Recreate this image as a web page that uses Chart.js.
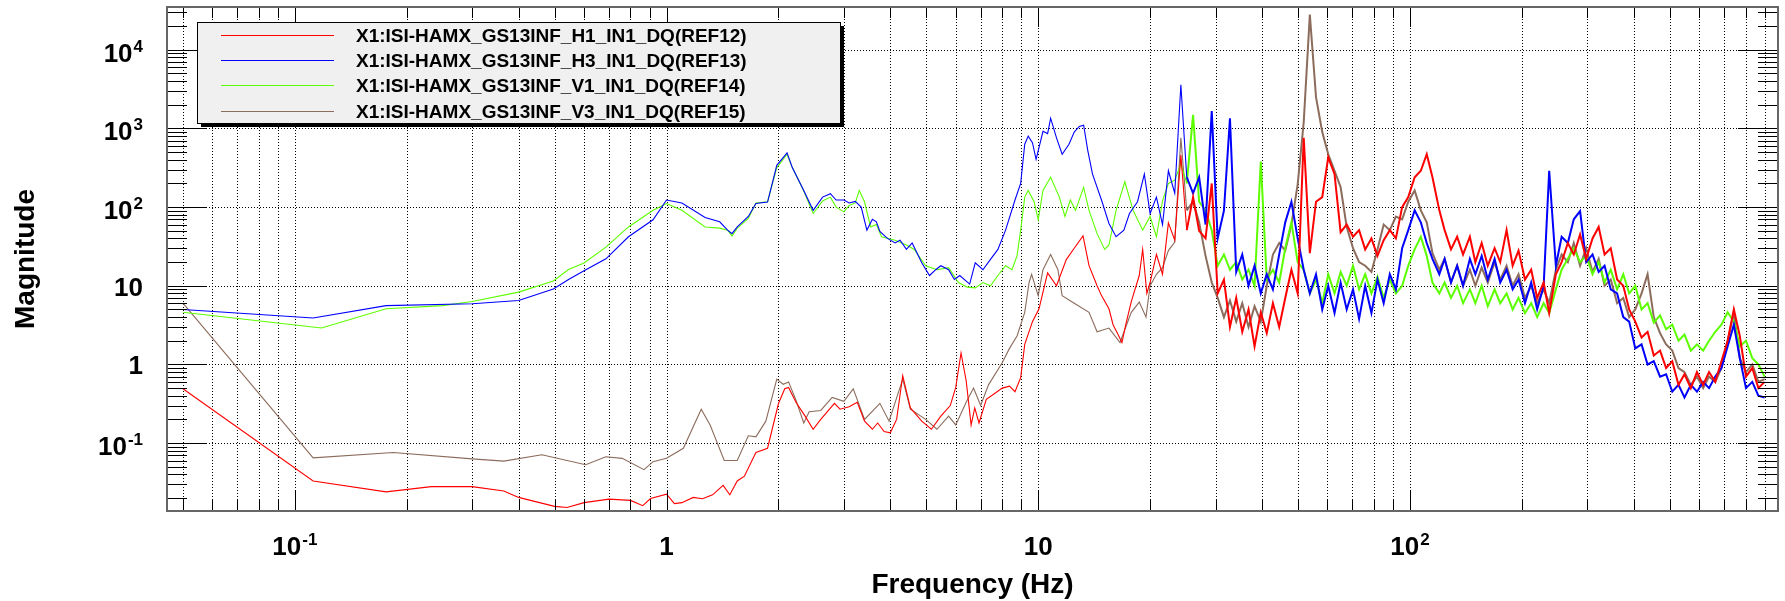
<!DOCTYPE html>
<html>
<head>
<meta charset="utf-8">
<script src="https://cdn.jsdelivr.net/npm/chart.js@4.4.1/dist/chart.umd.min.js"></script>
<style>
html, body { margin: 0; padding: 0; background: #fff; }
#wrap { width: 1785px; height: 601px; }
</style>
</head>
<body>
<div id="wrap"><canvas id="c" width="1785" height="601"></canvas></div>
<script>
// Spectra
// ================================================================================
// below 20 Hz every trace has its own breakpoints
let freqRedLow = [0.05, 0.112, 0.176, 0.233, 0.30, 0.365, 0.40, 0.50, 0.54, 0.60,
	0.70, 0.80, 0.863, 0.906, 1.0, 1.05, 1.10, 1.18, 1.25, 1.33,
	1.42, 1.48, 1.55, 1.62, 1.74, 1.87, 2.0, 2.08, 2.13, 2.23,
	2.36, 2.48, 2.6, 2.83, 2.93, 3.1, 3.26, 3.41, 3.58, 3.7,
	3.85, 4.0, 4.16, 4.32, 4.53, 4.86, 5.16, 5.47, 5.8, 6.0,
	6.2, 6.4, 6.6, 6.75, 6.93, 7.25, 7.6, 8.0, 8.37, 8.66,
	8.97, 9.2, 9.65, 10.05, 10.3, 10.6, 11.2, 11.9, 12.5, 13.2,
	13.7, 14.4, 14.8, 15.5, 15.9, 16.4, 16.8, 17.2, 17.8, 18.7,
	19.1, 19.6];
let magRedLow = [0.49, 0.033, 0.024, 0.028, 0.028, 0.0246, 0.0204, 0.0157, 0.0152, 0.0175,
	0.0194, 0.0187, 0.016, 0.0197, 0.0224, 0.017, 0.0175, 0.0204, 0.0196, 0.022,
	0.029, 0.022, 0.033, 0.038, 0.076, 0.086, 0.316, 0.49, 0.51, 0.33,
	0.22, 0.15, 0.20, 0.32, 0.27, 0.29, 0.33, 0.19, 0.15, 0.18,
	0.14, 0.135, 0.2, 0.72, 0.28, 0.19, 0.15, 0.22, 0.30, 0.51,
	1.4, 0.62, 0.17, 0.28, 0.18, 0.36, 0.42, 0.5, 0.53, 0.45,
	0.68, 1.8, 3.5, 5.1, 8.3, 14.6, 10, 21.5, 30, 43,
	18, 10, 7.5, 5.1, 3.2, 2.4, 1.9, 3.2, 6.3, 13.5,
	29, 8];

let freqBlueLow = [0.05, 0.112, 0.176, 0.30, 0.40, 0.496, 0.545, 0.60, 0.687, 0.79,
	0.92, 1.0, 1.1, 1.27, 1.39, 1.46, 1.50, 1.55, 1.66, 1.74,
	1.87, 1.98, 2.11, 2.18, 2.34, 2.48, 2.63, 2.76, 2.86, 3.0,
	3.1, 3.22, 3.34, 3.46, 3.58, 3.67, 3.75, 3.93, 4.12, 4.25,
	4.42, 4.58, 4.86, 5.1, 5.3, 5.47, 5.74, 5.95, 6.15, 6.54,
	6.77, 7.1, 7.44, 7.79, 8.17, 8.66, 8.97, 9.2, 9.4, 9.65,
	9.87, 10.3, 10.6, 10.8, 11.2, 11.6, 12.1, 12.5, 12.9, 13.25,
	13.6, 14.0, 14.8, 15.5, 16.2, 17.0, 17.6, 18.5, 19.3];
let magBlueLow = [5.0, 3.9, 5.6, 5.9, 6.5, 9.1, 12, 15.5, 22, 42,
	69, 123, 113, 74, 65, 51, 46, 56, 76, 111,
	116, 340, 490, 318, 163, 91, 134, 148, 123, 123,
	113, 118, 100, 51, 70, 65, 49, 40, 35, 38,
	29, 35, 19.6, 13.5, 16, 18, 16, 12, 13.5, 10.5,
	19.6, 16, 21.7, 29, 51, 123, 200, 630, 800, 660,
	405, 920, 860, 1350, 760, 470, 630, 900, 1060, 1100,
	520, 262, 123, 62, 42, 51, 83, 117, 262];

let freqGreenLow = [0.05, 0.118, 0.176, 0.25, 0.30, 0.40, 0.496, 0.545, 0.60, 0.687,
	0.79, 0.92, 1.0, 1.1, 1.27, 1.39, 1.46, 1.50, 1.55, 1.66,
	1.74, 1.87, 1.98, 2.11, 2.18, 2.34, 2.48, 2.63, 2.76, 2.86,
	3.0, 3.1, 3.22, 3.30, 3.41, 3.54, 3.67, 3.79, 4.12, 4.42,
	4.64, 4.98, 5.34, 5.74, 6.1, 6.45, 6.77, 7.1, 7.44, 7.79,
	8.17, 8.5, 8.77, 8.97, 9.2, 9.4, 9.75, 10.0, 10.3, 10.8,
	11.4, 11.8, 12.2, 12.6, 13.25, 13.7, 14.4, 15.1, 15.5, 16.2,
	17.1, 18.0, 19.1];
let magGreenLow = [4.6, 2.9, 5.1, 5.6, 6.3, 8.3, 11.5, 16.1, 19.5, 31,
	56, 91, 111, 91, 56, 54, 51, 43, 54, 72,
	113, 117, 318, 470, 318, 160, 83, 120, 134, 100,
	87, 105, 113, 163, 117, 56, 60, 42, 38, 33,
	29, 18, 16, 17, 11, 9.6, 9.4, 11, 10, 13.5,
	18, 16, 24, 51, 134, 163, 117, 69, 163, 240,
	134, 76, 123, 91, 178, 91, 46, 29, 33, 91,
	210, 91, 51];

let freqBrownLow = [0.05, 0.112, 0.184, 0.30, 0.365, 0.462, 0.606, 0.687, 0.76, 0.87,
	0.92, 1.0, 1.11, 1.24, 1.31, 1.43, 1.55, 1.66, 1.74, 1.85,
	1.98, 2.06, 2.13, 2.23, 2.34, 2.42, 2.6, 2.79, 3.0, 3.18,
	3.41, 3.75, 3.97, 4.32, 4.53, 4.98, 5.34, 5.74, 6.0, 6.4,
	6.7, 7.0, 7.35, 8.0, 8.37, 8.77, 9.2, 9.45, 9.6, 10.0,
	10.3, 10.8, 11.3, 11.6, 12.5, 13.7, 14.4, 15.5, 16.6, 17.8,
	18.7, 19.5];
let magBrownLow = [6.0, 0.065, 0.076, 0.063, 0.059, 0.071, 0.053, 0.067, 0.064, 0.046,
	0.058, 0.064, 0.086, 0.27, 0.17, 0.060, 0.060, 0.124, 0.12, 0.19,
	0.65, 0.56, 0.6, 0.35, 0.18, 0.25, 0.26, 0.38, 0.34, 0.49,
	0.2, 0.32, 0.19, 0.65, 0.27, 0.2, 0.15, 0.22, 0.17, 0.33,
	0.5, 0.30, 0.55, 1.05, 1.6, 2.3, 4.6, 11, 14, 7.5,
	16, 25, 16, 7.5, 6, 4.6, 2.6, 2.9, 1.9, 4.6,
	6.2, 4];

// 20 Hz and up: one shared frequency grid, values alternate across the noise band
let freqHigh = [20, 20.8, 21.6, 22.4, 23.3, 24.2, 25.1, 26.1, 27.1, 28.2,
	29.3, 30.4, 31.6, 32.8, 34.1, 35.4, 36.8, 38.2, 39.7, 41.2,
	42.8, 44.5, 46.2, 48, 49.9, 51.8, 53.8, 55.9, 58.1, 60.3,
	62.7, 65.1, 67.6, 70.3, 73, 75.8, 78.8, 81.8, 85, 88.3,
	91.7, 95.3, 99, 103, 107, 111, 115, 120, 124, 129,
	134, 139, 145, 150, 156, 162, 169, 175, 182, 189,
	196, 204, 212, 220, 229, 237, 247, 256, 266, 276,
	287, 298, 310, 322, 334, 347, 361, 375, 389, 404,
	420, 436, 453, 471, 489, 508, 528, 548, 570, 592,
	615, 638, 663, 689, 716, 744, 772, 802, 834, 866,
	900];

let magRedHigh = [11, 25, 14, 63, 38, 460, 51, 134, 50, 40,
	200, 8, 12, 3, 7, 2.6, 5, 1.7, 4.6, 2.5,
	6, 3, 7, 16, 8, 760, 26, 117, 134, 430,
	262, 48, 60, 42, 51, 29, 40, 24, 38, 51,
	40, 100, 134, 240, 290, 470, 240, 91, 51, 29,
	42, 25, 42, 20, 35, 18, 30, 20, 51, 18,
	28, 12, 16, 7, 11, 4.5, 14, 20, 35, 25,
	45, 22, 40, 56, 25, 30, 12, 10, 5, 3.5,
	2.2, 2.6, 1.3, 1.5, 0.9, 1.1, 0.55, 0.75, 0.5, 0.8,
	0.55, 0.8, 0.6, 1.1, 2.0, 5.0, 2.3, 0.7, 0.9, 0.5,
	0.6];

let magBlueHigh = [83, 134, 60, 290, 150, 3600, 240, 150, 240, 60,
	1660, 40, 90, 1350, 15, 25, 10, 18, 8, 14,
	9, 25, 64, 117, 40, 16, 8, 14, 5, 10,
	4.5, 11, 5, 9, 3.8, 10, 4.5, 12, 6, 14,
	9, 30, 51, 91, 64, 35, 22, 14, 22, 11,
	18, 10, 22, 14, 24, 12, 22, 11, 16, 9,
	12, 6, 11, 5, 10, 290, 18, 42, 35, 70,
	89, 20, 25, 15, 18, 9, 8, 4, 3.5, 1.6,
	1.8, 1.0, 1.1, 0.7, 0.75, 0.45, 0.55, 0.38, 0.55, 0.45,
	0.6, 0.5, 0.7, 0.9, 1.7, 3.2, 1.2, 0.5, 0.6, 0.4,
	0.38];

let magGreenHigh = [76, 42, 120, 200, 220, 355, 200, 1490, 117, 91,
	51, 18, 25, 16, 20, 12, 16, 10, 380, 12,
	16, 11, 30, 64, 20, 16, 8, 12, 6, 14,
	8, 15, 10, 18, 9, 14, 8, 13, 7, 12,
	8, 10, 18, 29, 42, 24, 11, 8, 11, 7,
	10, 6, 9, 6, 10, 5.5, 9, 6, 8, 5,
	7, 4.5, 6, 4, 6, 4.5, 9, 16, 22, 30,
	20, 24, 14, 20, 11, 16, 9, 14, 8, 10,
	5, 6, 3.4, 4.2, 2.8, 3.2, 2.0, 2.4, 1.5, 1.8,
	1.5, 2.0, 2.6, 3.2, 4.6, 3.5, 1.7, 2.0, 1.2, 1.0,
	0.7];

let magBrownHigh = [10, 14, 17, 28, 36, 760, 91, 117, 64, 24,
	11, 7, 4, 6.5, 3.5, 6, 3, 5.5, 3.5, 10,
	25, 35, 28, 60, 195, 1200, 28000, 2500, 900, 470,
	290, 180, 56, 30, 20, 18, 15, 29, 60, 51,
	76, 70, 117, 163, 91, 64, 26, 16, 22, 11,
	18, 10, 16, 10, 17, 11, 20, 12, 18, 10,
	14, 7, 10, 6, 9, 6, 16, 25, 20, 35,
	18, 30, 15, 22, 10, 12, 6, 7, 4, 5,
	8, 14, 4, 2.5, 1.8, 1.5, 0.9, 0.8, 0.55, 0.7,
	0.5, 0.7, 0.6, 0.9, 2.0, 4.5, 1.2, 0.8, 1.0, 0.6,
	0.65];

let traceNames = ["X1:ISI-HAMX_GS13INF_H1_IN1_DQ(REF12)", "X1:ISI-HAMX_GS13INF_H3_IN1_DQ(REF13)",
	"X1:ISI-HAMX_GS13INF_V1_IN1_DQ(REF14)", "X1:ISI-HAMX_GS13INF_V3_IN1_DQ(REF15)"];
let traceColors = ["#ff0000", "#0000ff", "#5cff00", "#8c6c5c"];

// axis labels: [value, base, exponent]
let xTickLabels = [[0.1, "10", "-1"], [1, "1", ""], [10, "10", ""], [100, "10", "2"]];
let yTickLabels = [[0.1, "10", "-1"], [1, "1", ""], [10, "10", ""], [100, "10", "2"],
	[1000, "10", "3"], [10000, "10", "4"]];

let xRange = [0.0453, 978];
let yRange = [0.0137, 35000];


// Helpers
// ================================================================================
let zip = (fx, fy) => {
	if (fx.length !== fy.length) console.warn("length mismatch", fx.length, fy.length);
	return fx.map((f, i) => ({x: f, y: fy[i]}));
};

let logTicks = (min, max) => {
	let out = [];
	for (let e = -3; e <= 5; e++) {
		for (let m = 1; m <= 9; m++) {
			let v = m * Math.pow(10, e);
			if (v >= min && v <= max) out.push({v: v, major: m === 1});
		}
	}
	return out;
};

const FONT = "'Liberation Sans', Arial, Helvetica, sans-serif";

function drawPow(ctx, base, exp, x, y, align) {
	ctx.font = "bold 26px " + FONT;
	let wb = ctx.measureText(base).width;
	ctx.font = "bold 17px " + FONT;
	let we = exp ? ctx.measureText(exp).width + 1 : 0;
	let w = wb + we;
	let x0 = align === "right" ? x - w : x - w / 2;
	ctx.textAlign = "left";
	ctx.textBaseline = "alphabetic";
	ctx.font = "bold 26px " + FONT;
	ctx.fillText(base, x0, y);
	if (exp) {
		ctx.font = "bold 17px " + FONT;
		ctx.fillText(exp, x0 + wb + 1, y - 10);
	}
}


// Axes, grid and legend in the ROOT style
// ================================================================================
let rootFrame = {
	id: "rootFrame",
	beforeDatasetsDraw(chart) {
		let {ctx, chartArea: a, scales: {x, y}} = chart;
		ctx.save();
		ctx.strokeStyle = "#000";
		ctx.lineWidth = 1;
		ctx.setLineDash([1, 2]);
		ctx.beginPath();
		logTicks(xRange[0], xRange[1]).forEach(t => {
			let px = Math.round(x.getPixelForValue(t.v)) + 0.5;
			ctx.moveTo(px, a.top);
			ctx.lineTo(px, a.bottom);
		});
		logTicks(yRange[0], yRange[1]).filter(t => t.major).forEach(t => {
			let py = Math.round(y.getPixelForValue(t.v)) + 0.5;
			ctx.moveTo(a.left, py);
			ctx.lineTo(a.right, py);
		});
		ctx.stroke();
		ctx.restore();
	},
	afterDatasetsDraw(chart) {
		let {ctx, chartArea: a, scales: {x, y}} = chart;
		ctx.save();

		// ticks pointing inwards on all four sides
		ctx.strokeStyle = "#000";
		ctx.lineWidth = 1;
		ctx.beginPath();
		logTicks(xRange[0], xRange[1]).forEach(t => {
			let px = Math.round(x.getPixelForValue(t.v)) + 0.5;
			let len = t.major ? 20 : 11;
			ctx.moveTo(px, a.bottom); ctx.lineTo(px, a.bottom - len);
			ctx.moveTo(px, a.top); ctx.lineTo(px, a.top + len);
		});
		logTicks(yRange[0], yRange[1]).forEach(t => {
			let py = Math.round(y.getPixelForValue(t.v)) + 0.5;
			let len = t.major ? 40 : 20;
			ctx.moveTo(a.left, py); ctx.lineTo(a.left + len, py);
			ctx.moveTo(a.right, py); ctx.lineTo(a.right - len, py);
		});
		ctx.stroke();

		ctx.strokeStyle = "#666";
		ctx.lineWidth = 2;
		ctx.strokeRect(a.left, a.top, a.right - a.left, a.bottom - a.top);

		// tick labels
		ctx.fillStyle = "#000";
		xTickLabels.forEach(([v, b, e]) => drawPow(ctx, b, e, x.getPixelForValue(v), 555, "center"));
		yTickLabels.forEach(([v, b, e]) => drawPow(ctx, b, e, 143, y.getPixelForValue(v) + (e ? 12 : 10), "right"));

		// axis titles
		ctx.font = "bold 28px " + FONT;
		ctx.textAlign = "center";
		ctx.textBaseline = "alphabetic";
		ctx.fillText("Frequency (Hz)", (a.left + a.right) / 2, 593);
		ctx.translate(34, (a.top + a.bottom) / 2);
		ctx.rotate(-Math.PI / 2);
		ctx.fillText("Magnitude", 0, 0);
		ctx.setTransform(1, 0, 0, 1, 0, 0);

		// legend box with shadow
		let lx = 197, ly = 22, lw = 643, lh = 101;
		ctx.fillStyle = "#000";
		ctx.fillRect(lx + 4, ly + 4, lw, lh);
		ctx.fillStyle = "#f0f0f0";
		ctx.fillRect(lx, ly, lw, lh);
		ctx.strokeStyle = "#000";
		ctx.lineWidth = 1;
		ctx.strokeRect(lx + 0.5, ly + 0.5, lw, lh);
		ctx.font = "bold 19px " + FONT;
		ctx.textAlign = "left";
		ctx.textBaseline = "middle";
		chart.data.datasets.forEach((ds, i) => {
			let ry = Math.round(ly + 12.5 + i * 25.4) + 0.5;
			ctx.strokeStyle = ds.borderColor;
			ctx.beginPath();
			ctx.moveTo(221, ry);
			ctx.lineTo(334, ry);
			ctx.stroke();
			ctx.fillStyle = "#000";
			ctx.fillText(ds.label, 356, ry + 1);
		});
		ctx.restore();
	}
};


// Chart
// ================================================================================
let lowSets = [[freqRedLow, magRedLow], [freqBlueLow, magBlueLow],
	[freqGreenLow, magGreenLow], [freqBrownLow, magBrownLow]];
let highSets = [magRedHigh, magBlueHigh, magGreenHigh, magBrownHigh];

let datasets = traceNames.map((name, i) => ({
	label: name,
	data: zip(lowSets[i][0], lowSets[i][1]).concat(zip(freqHigh, highSets[i])),
	borderColor: traceColors[i],
	borderWidth: 1.1,
	// the dense noisy part of the spectra reads as a thicker band
	segment: {borderWidth: c => c.p0.parsed.x >= 25 ? 2 : 1.1},
	pointRadius: 0,
	showLine: true,
	tension: 0
}));

let spectrum_chart = new Chart(document.getElementById("c"), {
	type: "scatter",
	data: {datasets: datasets},
	options: {
		responsive: false,
		animation: false,
		devicePixelRatio: 1,
		layout: {padding: {left: 159, right: 7, top: 7, bottom: 82}},
		plugins: {legend: {display: false}, tooltip: {enabled: false}},
		scales: {
			x: {
				type: "logarithmic", min: xRange[0], max: xRange[1],
				ticks: {display: false}, grid: {display: false}, border: {display: false}
			},
			y: {
				type: "logarithmic", min: yRange[0], max: yRange[1],
				ticks: {display: false}, grid: {display: false}, border: {display: false}
			}
		}
	},
	plugins: [rootFrame]
});
</script>
</body>
</html>
